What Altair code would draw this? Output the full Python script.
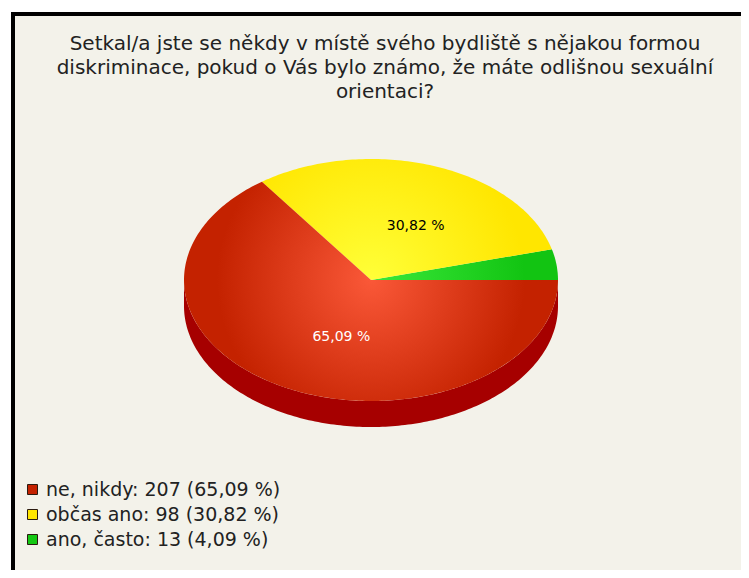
import altair as alt
import numpy as np
import pandas as pd

# ---------------- data ----------------
categories = ["ne, nikdy", "občas ano", "ano, často"]
counts = [207, 98, 13]
percents = [65.09, 30.82, 4.09]
title_lines = [
    "Setkal/a jste se někdy v místě svého bydliště s nějakou formou",
    "diskriminace, pokud o Vás bylo známo, že máte odlišnou sexuální",
    "orientaci?",
]

# ---------------- styles ----------------
base_colors = ["#c42200", "#ffe600", "#12c412"]
light_colors = ["#fa5838", "#ffff38", "#3ae83a"]
legend_colors = ["#c42200", "#ffe600", "#14c814"]
label_colors = ["#ffffff", "#000000", "#000000"]
side_color = "#a60000"
bg = "#f3f2ea"
FONT = "DejaVu Sans"

# ---------------- layout (view pixels) ----------------
W, H = 728, 556
CX, CY, RX, RY, DEPTH = 358, 266, 187, 121, 26

def pt(t, off=0.0):
    r = np.radians(t)
    return CX + RX * np.cos(r), CY - RY * np.sin(r) + off

# slices are drawn counter-clockwise from 3 o'clock, last category first
draw_order = [2, 1, 0]
angles = {}
start = 0.0
for i in draw_order:
    a1 = start + percents[i] / 100.0 * 360.0
    angles[i] = (start, a1)
    start = a1

xs = alt.X("x:Q", scale=alt.Scale(domain=[0, W], nice=False, zero=False), axis=None)
ys = alt.Y("y:Q", scale=alt.Scale(domain=[0, H], nice=False, zero=False, reverse=True), axis=None)

layers = []

# side (depth) of the pie: visible only on the front half
for i in draw_order:
    a0, a1 = angles[i]
    s0, s1 = max(a0, 180.0), min(a1, 360.0)
    if s1 <= s0:
        continue
    ts = np.linspace(s0, s1, int(s1 - s0) + 2)
    pts = [pt(t) for t in ts] + [pt(t, DEPTH) for t in ts[::-1]]
    df = pd.DataFrame({"x": [p[0] for p in pts], "y": [p[1] for p in pts], "o": range(len(pts))})
    layers.append(
        alt.Chart(df).mark_line(fill=side_color, strokeWidth=0, strokeOpacity=0)
        .encode(x=xs, y=ys, order="o:Q")
    )

# top faces
for i in draw_order:
    a0, a1 = angles[i]
    ts = np.linspace(a0, a1, max(2, int(a1 - a0) + 2))
    pts = [(CX, CY)] + [pt(t) for t in ts]
    px = [p[0] for p in pts]
    py = [p[1] for p in pts]
    bw, bh = max(px) - min(px), max(py) - min(py)
    s = max(bw, bh)
    u = 0.5 + (CX - (max(px) + min(px)) / 2) / s
    v = 0.5 + (CY - (max(py) + min(py)) / 2) / s
    grad = alt.RadialGradient(
        gradient="radial",
        stops=[alt.GradientStop(color=light_colors[i], offset=0),
               alt.GradientStop(color=base_colors[i], offset=1)],
        x1=u, y1=v, r1=0, x2=u, y2=v, r2=(RX + RY) / 2 / s,
    )
    df = pd.DataFrame({"x": px, "y": py, "o": range(len(pts))})
    layers.append(
        alt.Chart(df).mark_line(fill=grad, strokeWidth=0, strokeOpacity=0)
        .encode(x=xs, y=ys, order="o:Q")
    )

# percentage labels on slices
for i in draw_order:
    if percents[i] < 5:
        continue
    a0, a1 = angles[i]
    mid = (a0 + a1) / 2
    r = np.radians(mid)
    lx = CX + 0.5 * RX * np.cos(r)
    ly = CY - 0.5 * RY * np.sin(r)
    txt = f"{percents[i]:.2f} %".replace(".", ",")
    df = pd.DataFrame({"x": [lx], "y": [ly], "t": [txt]})
    layers.append(
        alt.Chart(df).mark_text(font=FONT, fontSize=14, color=label_colors[i],
                                align="center", baseline="middle", dx=13, dy=3)
        .encode(x=xs, y=ys, text="t:N")
    )

# title
title_df = pd.DataFrame({"t": [title_lines]})
layers.append(
    alt.Chart(title_df).mark_text(font=FONT, fontSize=20, color="#222222",
                                  align="center", baseline="alphabetic", lineHeight=24)
    .encode(x=alt.value(372), y=alt.value(36), text="t")
)

# legend (via invisible points)
legend_labels = [f"{c}: {n} ({p:.2f} %)".replace(".", ",") for c, n, p in zip(categories, counts, percents)]
leg_df = pd.DataFrame({"lab": legend_labels, "x": [CX] * 3, "y": [CY] * 3})
layers.append(
    alt.Chart(leg_df).mark_point(filled=True, opacity=0, size=1, stroke="#2a1a10", strokeWidth=1)
    .encode(
        x=xs, y=ys,
        color=alt.Color("lab:N",
                        scale=alt.Scale(domain=legend_labels, range=legend_colors),
                        legend=alt.Legend(orient="none", legendX=10, legendY=466, title=None,
                                          symbolType="square", symbolSize=100, symbolOpacity=1,
                                          symbolStrokeColor="#2a1a10", symbolStrokeWidth=1,
                                          labelFont=FONT, labelFontSize=19, labelColor="#222222",
                                          labelOffset=4, rowPadding=5, labelLimit=400)),
    )
)

# frame (left and top borders)
layers.append(
    alt.Chart(pd.DataFrame({"a": [0]})).mark_rule(color="black", strokeWidth=4)
    .encode(x=alt.value(0), y=alt.value(-2), y2=alt.value(H))
)
layers.append(
    alt.Chart(pd.DataFrame({"a": [0]})).mark_rule(color="black", strokeWidth=4)
    .encode(x=alt.value(-2), x2=alt.value(W), y=alt.value(0))
)

chart = (
    alt.layer(*layers)
    .properties(width=W, height=H, autosize=alt.AutoSizeParams(type="none"),
                padding={"left": 5, "top": 6, "right": 0, "bottom": 0},
                background="white")
    .configure_view(fill=bg, strokeWidth=0)
)

chart.save("out.html", embed_options={"renderer": "svg", "actions": False})
